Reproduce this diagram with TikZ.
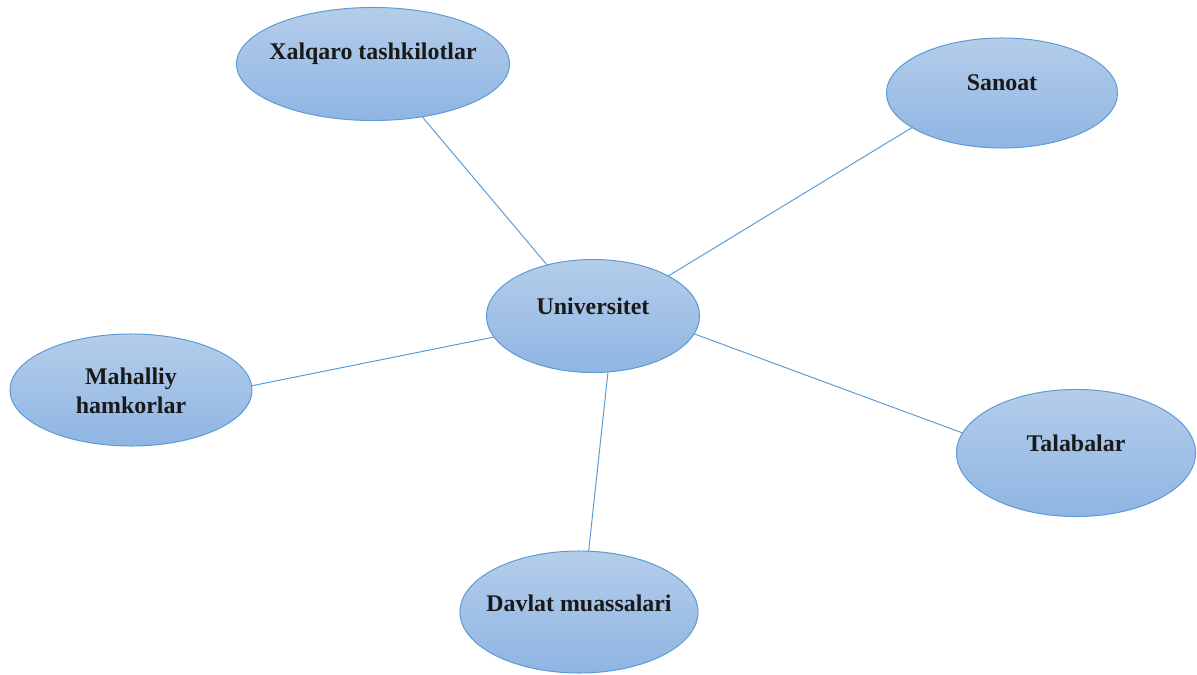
\documentclass[tikz,border=0pt]{standalone}
\usepackage{fontspec}
\setmainfont{Liberation Serif}
\usetikzlibrary{shapes.geometric,positioning,calc}

\definecolor{ellline}{RGB}{91,155,213}
\definecolor{elltop}{RGB}{180,205,234}
\definecolor{ellbot}{RGB}{143,181,227}

\begin{document}
\begin{tikzpicture}[
    x=0.025cm, y=-0.025cm,
    ell/.style={ellipse, draw=ellline, line width=0.7pt, top color=elltop,
                bottom color=ellbot, inner sep=0pt, outer sep=0pt},
    txt/.style={font=\bfseries\fontsize{17}{21}\selectfont, text=black!90,
                align=center, inner sep=0pt},
    link/.style={draw=ellline, line width=0.7pt}
]
\useasboundingbox (0,0) rectangle (1197,675);

% Centre
\node[ell, minimum width=5.325cm, minimum height=2.825cm] (uni) at (593,316) {};
\node[txt] (unitext) at (593,306) {Universitet};

% Partners
\node[ell, minimum width=6.825cm, minimum height=2.825cm] (xalq) at (373,64) {};
\node[txt] (xalqtext) at (373,54) {Xalqaro tashkilotlar};

\node[ell, minimum width=5.775cm, minimum height=2.75cm] (san) at (1002,93) {};
\node[txt] (santext) at (1002,83) {Sanoat};

\node[ell, minimum width=6.05cm, minimum height=2.8cm] (mah) at (131,390) {};
\node[txt] (mahtext) at (131,391) {Mahalliy\\hamkorlar};

\node[ell, minimum width=5.975cm, minimum height=3.175cm] (tal) at (1076,453) {};
\node[txt] (taltext) at (1076,443) {Talabalar};

\node[ell, minimum width=5.95cm, minimum height=3.05cm] (dav) at (579,612) {};
\node[txt] (davtext) at (579,603) {Davlat muassalari};

% Links
\draw[link] (uni.132) -- (xalq.-47);
\draw[link] (uni.28.7) -- (san.201.9);
\draw[link] (uni.192.7) -- (mah.2);
\draw[link] (uni.-10.9) -- (tal.170);
\draw[link] (uni.-75.5) -- (dav.81.6);

\end{tikzpicture}
\end{document}
